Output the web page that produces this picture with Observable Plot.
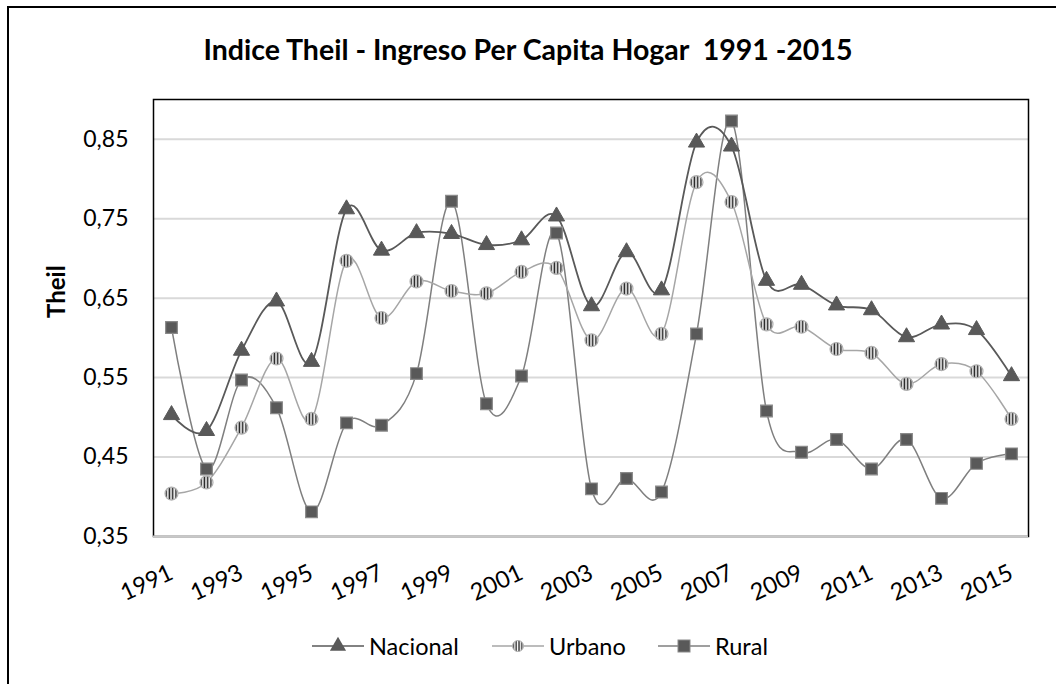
<!DOCTYPE html>
<html>
<head>
<meta charset="utf-8">
<script src="https://cdn.jsdelivr.net/npm/d3@7"></script>
<script src="https://cdn.jsdelivr.net/npm/@observablehq/plot@0.6"></script>
<style>
  html, body { margin: 0; padding: 0; background: #fff; }
  #wrap { position: relative; width: 1056px; height: 684px; overflow: hidden; font-family: Lato, "Open Sans", sans-serif; }
  #border { position: absolute; left: 7px; top: 6px; width: 1200px; height: 900px; border-left: 2px solid #000; border-top: 2px solid #000; }
  #title { position: absolute; left: 0; top: 32px; width: 1056px; text-align: center; font-weight: bold; font-size: 28.5px; color: #000; }
  #chart { position: absolute; left: 0; top: 80px; }
  #legend { position: absolute; left: 0; top: 629px; width: 1056px; height: 34px; }
  .lg { position: absolute; top: 0; display: flex; align-items: center; height: 34px; font-size: 23.5px; color: #000; }
  .lg svg { margin-right: 5px; }
</style>
</head>
<body>
<svg width="0" height="0" style="position:absolute">
  <defs>
    <pattern id="stripes" patternUnits="objectBoundingBox" patternContentUnits="objectBoundingBox" width="0.25" height="1">
      <rect x="0" y="0" width="0.25" height="1" fill="#ffffff"></rect>
      <rect x="0.03" y="0" width="0.12" height="1" fill="#262626"></rect>
    </pattern>
  </defs>
</svg>
<div id="wrap">
  <div id="border"></div>
  <div id="title">Indice Theil - Ingreso Per Capita Hogar&nbsp;&nbsp;1991 -2015</div>
  <div id="chart"></div>
  <div id="legend"></div>
</div>
<script>
const years = [1991,1992,1993,1994,1995,1996,1997,1998,1999,2000,2001,2002,2003,2004,2005,2006,2007,2008,2009,2010,2011,2012,2013,2014,2015];
const nacional = [0.503,0.483,0.584,0.646,0.570,0.762,0.710,0.732,0.731,0.717,0.723,0.753,0.640,0.708,0.660,0.846,0.841,0.672,0.667,0.641,0.635,0.601,0.617,0.610,0.552];
const urbano   = [0.404,0.418,0.487,0.574,0.498,0.697,0.625,0.671,0.659,0.656,0.683,0.688,0.597,0.662,0.605,0.796,0.771,0.617,0.614,0.586,0.581,0.542,0.567,0.558,0.498];
const rural    = [0.613,0.435,0.547,0.512,0.381,0.493,0.490,0.555,0.772,0.517,0.552,0.732,0.410,0.423,0.406,0.605,0.873,0.508,0.456,0.472,0.435,0.472,0.398,0.442,0.454];
const yTicks = [0.35,0.45,0.55,0.65,0.75,0.85];
const xLabels = years.filter((d, i) => i % 2 === 0);
const seriesNames = ["Nacional", "Urbano", "Rural"];

const rows = (name, vals) => years.map((yr, i) => ({year: yr, serie: name, value: vals[i]}));
const dNac = rows(seriesNames[0], nacional);
const dUrb = rows(seriesNames[1], urbano);
const dRur = rows(seriesNames[2], rural);

const fmt = d => d3.format(".2f")(d).replace(".", ",");

const chart = Plot.plot({
  width: 1056,
  height: 540,
  marginLeft: 153,
  marginRight: 28,
  marginTop: 19,
  marginBottom: 84,
  style: {fontFamily: "Lato, 'Open Sans', sans-serif", fontSize: "23px", color: "#000", background: "transparent", overflow: "visible"},
  x: {type: "point", domain: years, padding: 0.5, axis: null},
  y: {domain: [0.35, 0.9], axis: null},
  marks: [
    Plot.ruleY(yTicks.slice(1), {stroke: "#d9d9d9", strokeWidth: 2}),
    Plot.frame({stroke: "#000", strokeWidth: 1.5}),
    Plot.ruleY([0.35], {stroke: "#c8c8c8", strokeWidth: 2}),
    Plot.axisY({ticks: yTicks, tickSize: 0, tickPadding: 25, tickFormat: fmt, fontSize: 23, label: null}),
    Plot.text(["Theil"], {frameAnchor: "left", dx: -96, rotate: -90, fontWeight: "bold", fontSize: 24}),
    Plot.text(xLabels, {x: d => d, frameAnchor: "bottom", dy: 35, rotate: -25, textAnchor: "end", lineAnchor: "middle", fontSize: 23.5, text: d => String(d)}),
    Plot.line(dRur, {x: "year", y: "value", curve: "cardinal", tension: 0, stroke: "#7f7f7f", strokeWidth: 1.5}),
    Plot.line(dUrb, {x: "year", y: "value", curve: "cardinal", tension: 0, stroke: "#a6a6a6", strokeWidth: 1.5}),
    Plot.line(dNac, {x: "year", y: "value", curve: "cardinal", tension: 0, stroke: "#595959", strokeWidth: 1.8}),
    Plot.dot(dRur, {x: "year", y: "value", symbol: "square", r: 6.6, fill: "#595959", stroke: "#8a8a8a", strokeWidth: 1.2}),
    Plot.dot(dUrb, {x: "year", y: "value", symbol: "circle", r: 6.5, fill: "url(#stripes)", stroke: "#b0b0b0", strokeWidth: 1.2}),
    Plot.dot(dNac, {x: "year", y: "value", symbol: "triangle", r: 6, fill: "#595959", stroke: "#595959", strokeWidth: 1})
  ]
});
document.getElementById("chart").appendChild(chart);

// Legend
const legendItems = [
  {name: seriesNames[0], left: 312, line: "#595959", lw: 1.5, marker: "tri"},
  {name: seriesNames[1], left: 492, line: "#a6a6a6", lw: 1.5, marker: "circ"},
  {name: seriesNames[2], left: 658, line: "#7f7f7f", lw: 1.5, marker: "sq"}
];
const legend = d3.select("#legend");
for (const it of legendItems) {
  const item = legend.append("div").attr("class", "lg").style("left", it.left + "px");
  const s = item.append("svg").attr("width", 52).attr("height", 34);
  s.append("line").attr("x1", 0).attr("x2", 52).attr("y1", 17).attr("y2", 17).attr("stroke", it.line).attr("stroke-width", it.lw);
  if (it.marker === "tri") {
    s.append("path").attr("d", d3.symbol(d3.symbolTriangle, Math.PI * 36)()).attr("transform", "translate(26,17)").attr("fill", "#595959");
  } else if (it.marker === "circ") {
    s.append("circle").attr("cx", 26).attr("cy", 17).attr("r", 5.5).attr("fill", "url(#stripes)").attr("stroke", "#b0b0b0");
  } else {
    s.append("rect").attr("x", 20).attr("y", 11).attr("width", 12).attr("height", 12).attr("fill", "#595959").attr("stroke", "#8a8a8a");
  }
  item.append("span").text(it.name);
}
</script>
</body>
</html>
